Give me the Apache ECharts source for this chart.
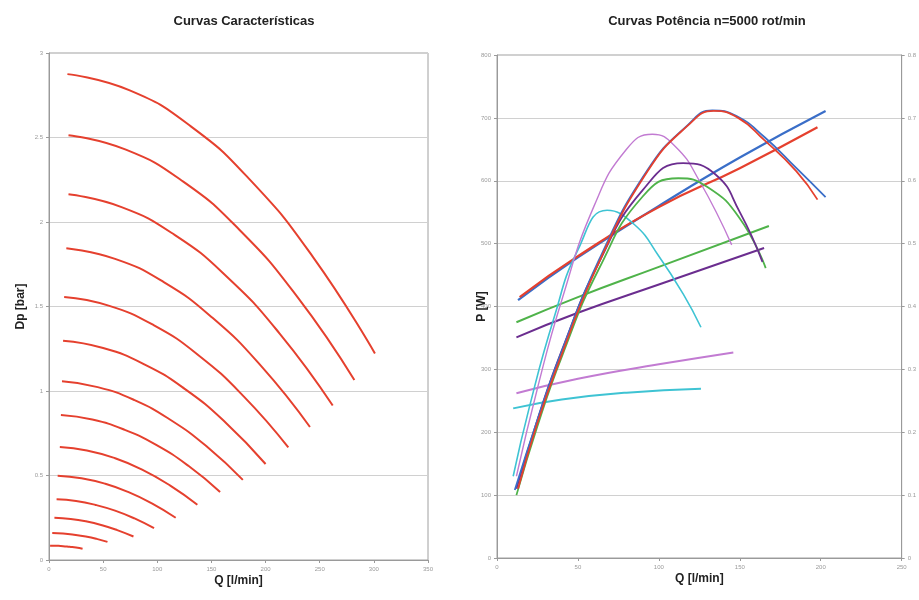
<!DOCTYPE html>
<html><head><meta charset="utf-8">
<script src="https://cdn.jsdelivr.net/npm/echarts@6/dist/echarts.min.js"></script>
<style>html,body{margin:0;padding:0;background:#fff}#c{width:919px;height:600px}</style>
</head><body><div id="c"></div>
<script>
// Left chart: pressure curves Dp [bar] vs Q [l/min]
const dpCurve1  = [[17,2.875],[74,2.78],[131,2.566],[187,2.24],[244,1.791],[301,1.222]];
const dpCurve2  = [[18,2.514],[71,2.428],[124,2.239],[176,1.953],[229,1.560],[282,1.065]];
const dpCurve3  = [[18,2.164],[67,2.088],[116,1.924],[164,1.678],[213,1.340],[262,0.914]];
const dpCurve4  = [[16,1.845],[61,1.782],[106,1.644],[151,1.433],[196,1.147],[241,0.787]];
const dpCurve5  = [[14,1.556],[55,1.505],[97,1.388],[138,1.212],[180,0.967],[221,0.666]];
const dpCurve6  = [[13,1.297],[50,1.254],[88,1.158],[125,1.014],[163,0.814],[200,0.568]];
const dpCurve7  = [[12,1.057],[45,1.023],[79,0.946],[112,0.830],[146,0.670],[179,0.474]];
const dpCurve8  = [[11,0.858],[40,0.831],[70,0.770],[99,0.681],[129,0.556],[158,0.403]];
const dpCurve9  = [[10,0.668],[35,0.648],[61,0.602],[86,0.535],[112,0.440],[137,0.327]];
const dpCurve10 = [[8,0.499],[30,0.484],[52,0.451],[73,0.403],[95,0.335],[117,0.250]];
const dpCurve11 = [[7,0.359],[25,0.349],[43,0.326],[61,0.292],[79,0.246],[97,0.188]];
const dpCurve12 = [[5,0.250],[20,0.243],[34,0.229],[49,0.206],[63,0.177],[78,0.139]];
const dpCurve13 = [[3,0.160],[13,0.157],[23,0.150],[34,0.139],[44,0.125],[54,0.107]];
const dpCurve14 = [[1,0.085],[7,0.084],[13,0.082],[19,0.078],[25,0.074],[31,0.067]];
const dpCurves = [dpCurve1,dpCurve2,dpCurve3,dpCurve4,dpCurve5,dpCurve6,dpCurve7,dpCurve8,dpCurve9,dpCurve10,dpCurve11,dpCurve12,dpCurve13,dpCurve14];

// Right chart: power P [W] (left axis) and efficiency (right axis) vs Q
const powerBlue     = [[13,410],[50,478],[100,560],[150,637],[203,711]];
const powerRed      = [[14,415],[50,480],[100,558],[150,620],[198,685]];
const powerGreen    = [[12,375],[50,415],[100,463],[168,528]];
const powerPurple   = [[12,351],[50,390],[100,435],[165,493]];
const powerLavender = [[12,262],[50,285],[100,308],[146,327]];
const powerCyan     = [[10,238],[40,252],[80,263],[126,269]];

const effBlue     = [[11,0.108],[25,0.22],[38,0.315],[63,0.474],[93,0.617],[118,0.689],[133,0.712],[148,0.703],[165,0.67],[185,0.62],[203,0.574]];
const effRed      = [[13,0.11],[25,0.215],[38,0.31],[63,0.47],[93,0.615],[118,0.688],[134,0.711],[149,0.70],[165,0.665],[185,0.615],[198,0.57]];
const effPurple   = [[12,0.11],[25,0.22],[40,0.33],[63,0.47],[90,0.585],[115,0.628],[135,0.61],[150,0.55],[164,0.471]];
const effGreen    = [[12,0.10],[25,0.21],[40,0.32],[63,0.46],[90,0.575],[112,0.604],[130,0.59],[150,0.54],[166,0.461]];
const effLavender = [[12,0.13],[25,0.27],[40,0.41],[60,0.56],[80,0.65],[96,0.674],[110,0.655],[125,0.60],[145,0.498]];
const effCyan     = [[10,0.13],[20,0.24],[35,0.38],[50,0.49],[68,0.553],[85,0.53],[100,0.48],[115,0.42],[126,0.367]];

const colors = {blue:'#3a6ec8', red:'#e5402e', green:'#4fb34a', purple:'#6b2d8f', lavender:'#c27bd2', cyan:'#3ec3d3'};

const chart = echarts.init(document.getElementById('c'));
const tickLbl = {fontSize:6, color:'#9a9a9a', margin:6};
const axLine = {show:true, lineStyle:{color:'#9a9a9a', width:1}};
const gridLine = {show:true, lineStyle:{color:'#d0d0d0', width:1}};
const axName = {fontSize:12, fontWeight:'bold', color:'#222', fontFamily:'Liberation Sans'};

const series = [];
dpCurves.forEach(c => series.push({type:'line', xAxisIndex:0, yAxisIndex:0, data:c, smooth:true, showSymbol:false, lineStyle:{color:colors.red, width:2}}));
function addR(data, color, yIdx, w){
  series.push({type:'line', xAxisIndex:1, yAxisIndex:yIdx, data:data, smooth:true, showSymbol:false, lineStyle:{color:color, width:w}});
}
addR(powerCyan, colors.cyan, 1, 2);
addR(powerLavender, colors.lavender, 1, 2);
addR(powerPurple, colors.purple, 1, 2);
addR(powerGreen, colors.green, 1, 2);
addR(powerBlue, colors.blue, 1, 2.2);
addR(powerRed, colors.red, 1, 2.2);
addR(effCyan, colors.cyan, 2, 1.6);
addR(effLavender, colors.lavender, 2, 1.4);
addR(effGreen, colors.green, 2, 1.8);
addR(effPurple, colors.purple, 2, 1.8);
addR(effBlue, colors.blue, 2, 1.8);
addR(effRed, colors.red, 2, 1.8);

chart.setOption({
  animation:false,
  title:[
    {text:'Curvas Características', left:239, top:10, textAlign:'center', textStyle:{fontSize:13, fontWeight:'bold', color:'#222', fontFamily:'Liberation Sans'}},
    {text:'Curvas Potência n=5000 rot/min', left:702, top:10, textAlign:'center', textStyle:{fontSize:13, fontWeight:'bold', color:'#222', fontFamily:'Liberation Sans'}}
  ],
  grid:[
    {left:49, right:491, top:53, bottom:40, show:true, borderColor:'#a0a0a0', borderWidth:1},
    {left:497, right:12, top:55, bottom:42, show:true, borderColor:'#a0a0a0', borderWidth:1}
  ],
  xAxis:[
    {gridIndex:0, type:'value', min:0, max:350, interval:50, axisLine:axLine, axisTick:{show:true, length:3}, axisLabel:tickLbl, splitLine:{show:false},
     name:'Q [l/min]', nameLocation:'middle', nameGap:15, nameMoveOverlap:false, nameTextStyle:axName},
    {gridIndex:1, type:'value', min:0, max:250, interval:50, axisLine:axLine, axisTick:{show:true, length:3}, axisLabel:tickLbl, splitLine:{show:false},
     name:'Q [l/min]', nameLocation:'middle', nameGap:15, nameMoveOverlap:false, nameTextStyle:axName}
  ],
  yAxis:[
    {gridIndex:0, type:'value', min:0, max:3, interval:0.5, axisLine:axLine, axisTick:{show:true, length:3}, axisLabel:tickLbl, splitLine:gridLine,
     name:'Dp [bar]', nameLocation:'middle', nameGap:22, nameMoveOverlap:false, nameTextStyle:axName},
    {gridIndex:1, type:'value', min:0, max:800, interval:100, axisLine:axLine, axisTick:{show:true, length:3}, axisLabel:tickLbl, splitLine:gridLine,
     name:'P [W]', nameLocation:'middle', nameGap:9, nameMoveOverlap:false, nameTextStyle:axName},
    {gridIndex:1, type:'value', position:'right', min:0, max:0.8, interval:0.1, axisLine:axLine, axisTick:{show:true, length:3}, axisLabel:tickLbl, splitLine:{show:false}}
  ],
  series:series
});
</script>
</body></html>
